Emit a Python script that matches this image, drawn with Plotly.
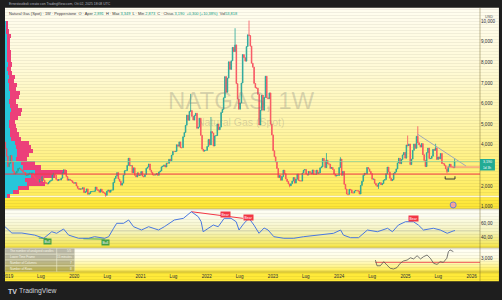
import pandas as pd
import plotly.graph_objects as go

# ---------------- data ----------------
last_week = "2025-09-29"
first_open = 4.13
closes_2018 = [3.82, 3.45, 2.94]
closes_2019 = [3.10, 3.48, 3.17, 2.71, 2.58, 2.63, 2.72, 2.85, 2.87, 2.80, 2.75, 2.66,
               2.65, 2.52, 2.53, 2.57, 2.62, 2.61, 2.63, 2.46, 2.40, 2.33, 2.27, 2.19, 2.31,
               2.26, 2.45, 2.28, 2.18, 2.12, 2.10, 2.18, 2.24, 2.28, 2.55, 2.62, 2.53, 2.32, 2.26,
               2.32, 2.29, 2.38, 2.64, 2.79, 2.63, 2.46, 2.28, 2.33, 2.28, 2.25, 2.17, 2.13]
closes_2020 = [2.16, 2.00, 1.89, 1.84, 1.86, 1.85, 1.92, 1.68, 1.72, 1.86, 1.60, 1.64, 1.73,
               1.73, 1.74, 1.75, 1.95, 1.83, 1.78, 1.70, 1.85, 1.73, 1.67, 1.65, 1.55, 1.75,
               1.80, 1.70, 1.80, 1.80, 2.17, 2.36, 2.48, 2.65, 2.34, 2.23, 2.04, 2.14, 2.53,
               2.74, 2.75, 3.00, 3.35, 2.98, 2.99, 2.64, 2.88, 2.52, 2.44, 2.64, 2.51, 2.54]
closes_2021 = [2.70, 2.48, 2.45, 2.56, 2.86, 2.92, 3.07, 2.77, 2.66, 2.54, 2.53, 2.55, 2.60,
               2.52, 2.68, 2.73, 2.93, 2.96, 3.02, 2.92, 3.11, 3.10, 3.30, 3.22, 3.50, 3.68,
               3.67, 3.68, 4.00, 3.93, 4.14, 3.86, 3.86, 4.39, 4.60, 4.95, 5.44, 5.19, 5.62,
               5.66, 5.38, 5.20, 5.42, 5.53, 4.80, 4.86, 5.29, 4.46, 3.79, 3.69, 3.73, 3.73]
closes_2022 = [3.92, 4.26, 3.99, 4.64, 4.57, 3.94, 4.43, 4.45, 5.01, 4.73, 4.86, 5.57, 5.72,
               6.28, 7.31, 6.55, 7.24, 8.03, 7.66, 8.08, 8.73, 8.52, 8.85, 6.97, 6.22, 5.73,
               6.03, 7.00, 8.38, 8.23, 8.06, 8.77, 9.34, 9.30, 8.79, 7.96, 7.77, 6.98, 6.77,
               6.75, 6.45, 4.96, 5.68, 6.40, 5.68, 6.30, 7.33, 6.28, 6.24, 6.52, 5.00, 4.48]
closes_2023 = [3.71, 3.42, 3.17, 2.85, 2.41, 2.51, 2.28, 2.46, 2.77, 2.60, 2.34, 2.22, 2.10,
               2.01, 2.11, 2.24, 2.41, 2.14, 2.33, 2.58, 2.27, 2.25, 2.24, 2.63, 2.77, 2.80,
               2.58, 2.53, 2.71, 2.64, 2.58, 2.78, 2.56, 2.56, 2.77, 2.61, 2.64, 2.88, 2.93,
               3.34, 3.22, 2.89, 3.25, 3.08, 3.06, 2.85, 2.90, 2.80, 2.58, 2.48, 2.51, 2.51]
closes_2024 = [2.90, 3.31, 2.52, 2.71, 2.08, 1.85, 1.61, 1.60, 1.84, 1.81, 1.66, 1.66, 1.76,
               1.78, 1.77, 1.75, 1.61, 2.03, 2.23, 2.52, 2.62, 2.59, 2.90, 2.83, 2.71, 2.60,
               2.33, 2.34, 2.13, 2.04, 1.98, 2.13, 2.16, 2.06, 2.12, 2.28, 2.31, 2.60, 2.92, 2.68,
               2.38, 2.26, 2.31, 2.61, 2.68, 2.83, 3.12, 3.35, 3.08, 3.29, 3.51, 3.63, 3.35]
closes_2025 = [3.99, 3.95, 4.04, 3.04, 3.31, 3.73, 4.04, 3.83, 4.41, 4.10, 3.99, 3.89, 4.06,
               3.52, 3.24, 2.94, 3.62, 3.84, 3.33, 3.34, 3.45, 3.78, 3.73, 3.85, 3.29, 3.41,
               3.32, 3.58, 3.09, 3.08, 2.99, 2.83, 2.70, 2.93, 3.06, 2.93, 2.92, 2.89, 3.19]
closes = closes_2018 + closes_2019 + closes_2020 + closes_2021 + closes_2022 + closes_2023 + closes_2024 + closes_2025

high_marks = {"2021-10-04": 6.47, "2022-01-24": 5.35, "2022-06-06": 9.66, "2022-08-22": 10.03,
              "2023-10-23": 3.60, "2024-01-08": 3.40, "2025-01-13": 4.45, "2025-03-10": 4.90,
              "2025-06-16": 4.05, "2025-09-29": 3.349}
low_marks = {"2020-06-22": 1.48, "2023-04-03": 1.94, "2024-02-19": 1.55, "2024-08-05": 1.86,
             "2025-08-18": 2.62, "2025-09-29": 2.873}

support_level = 2.58
short_level = 2.92
short_level_start = "2025-08-19"
trend_dates = ["2025-03-08", "2025-12-01"]
trend_prices = [4.52, 2.97]
bracket_dates = ["2025-08-08", "2025-08-08", "2025-10-01", "2025-10-01"]
bracket_prices = [2.47, 2.34, 2.34, 2.47]
event_date, event_price = "2025-09-21", 1.08

# volume profile (price bins, total and up-volume, arbitrary units)
vp_price = [1.5, 1.7, 1.9, 2.1, 2.3, 2.5, 2.7, 2.9, 3.1, 3.3, 3.5, 3.7, 3.9, 4.1, 4.3, 4.5, 4.7,
            4.9, 5.1, 5.3, 5.5, 5.7, 5.9, 6.1, 6.3, 6.5, 6.7, 6.9, 7.1, 7.3, 7.5, 7.7, 7.9, 8.1,
            8.3, 8.5, 8.7, 8.9, 9.1, 9.3, 9.5, 9.7, 9.9]
vp_total = [5, 14, 24, 40, 38, 50, 62, 36, 30, 22, 24, 28, 26, 24, 16, 14, 12, 11, 10, 13, 16, 17,
            13, 11, 14, 15, 11, 12, 9, 10, 7, 6, 7, 6, 6, 6, 5, 5, 5, 6, 4, 3, 3]
vp_up = [3, 8, 13, 22, 20, 26, 30, 18, 16, 11, 12, 12, 11, 10, 6, 5, 5, 4, 4, 5, 5, 6, 5, 4, 5, 5,
         4, 4, 3, 4, 3, 2, 3, 2, 2, 2, 2, 2, 2, 2, 1, 1, 1]

# RSI
rsi_dates = ["2018-12-15", "2019-01-22", "2019-03-18", "2019-05-28", "2019-07-17", "2019-08-30",
             "2019-09-26", "2019-11-03", "2019-12-01", "2020-01-25", "2020-03-20", "2020-04-22",
             "2020-06-17", "2020-07-09", "2020-08-05", "2020-08-22", "2020-09-29", "2020-10-27",
             "2020-11-23", "2021-01-06", "2021-02-14", "2021-04-10", "2021-05-12", "2021-07-06",
             "2021-08-25", "2021-10-08", "2021-11-15", "2021-12-01", "2021-12-12", "2022-01-09",
             "2022-02-06", "2022-03-05", "2022-04-07", "2022-05-15", "2022-06-12", "2022-06-28",
             "2022-07-25", "2022-08-22", "2022-09-18", "2022-10-16", "2022-11-13", "2022-12-05",
             "2023-01-06", "2023-03-02", "2023-04-26", "2023-06-19", "2023-09-04", "2023-10-29",
             "2023-12-01", "2024-01-09", "2024-01-25", "2024-03-04", "2024-04-17", "2024-06-05",
             "2024-07-30", "2024-09-24", "2024-10-21", "2024-11-23", "2025-01-01", "2025-02-14",
             "2025-03-13", "2025-04-10", "2025-06-04", "2025-07-12", "2025-08-19", "2025-09-21",
             "2025-10-01"]
rsi_vals = [55.3, 46.5, 46.5, 43.6, 39.2, 48.3, 46.1, 52.1, 43.6, 39.2, 39.2, 41.4, 39.2, 41.4,
            53.1, 60.0, 60.0, 64.6, 55.3, 50.7, 55.3, 50.7, 55.3, 64.6, 66.9, 76.1, 69.2, 62.2,
            48.3, 53.1, 57.6, 55.3, 66.9, 66.9, 62.2, 50.7, 60.0, 66.9, 57.6, 46.1, 53.5, 50.7,
            41.4, 39.2, 39.2, 41.4, 43.6, 46.1, 46.1, 50.7, 43.6, 40.0, 40.0, 50.7, 48.3, 53.1,
            48.3, 57.6, 62.2, 62.2, 57.6, 50.7, 53.1, 50.7, 46.1, 49.3, 50.0]
sig_dates = ["2019-08-08", "2020-06-22", "2022-04-12", "2022-08-20", "2025-02-14"]
sig_vals = [34.4, 33.6, 72.9, 68.3, 66.4]
sig_text = ["Bull", "Bull", "Bear", "Bear", "Bear"]
bear_line_dates = ["2021-10-08", "2022-07-19"]
bear_line_vals = [76.1, 66.9]
bull_lines = [(["2019-06-19", "2019-08-05"], [39.6, 38.6]),
              (["2020-02-20", "2020-06-17"], [38.5, 38.0])]

# lower-time-frame pane
ltf_dates = ["2024-07-19", "2024-07-28", "2024-08-15", "2024-09-03", "2024-09-21", "2024-10-09",
             "2024-10-27", "2024-11-15", "2024-12-03", "2024-12-21", "2025-01-10", "2025-01-28",
             "2025-02-15", "2025-03-06", "2025-03-25", "2025-04-11", "2025-04-30", "2025-05-18",
             "2025-06-05", "2025-06-24", "2025-07-11", "2025-07-29", "2025-08-17", "2025-08-26",
             "2025-09-04", "2025-09-13", "2025-09-22"]
ltf_vals = [2.91, 2.66, 2.66, 2.84, 2.69, 2.55, 2.52, 2.58, 2.77, 2.87, 2.91, 3.01, 2.96, 3.10,
            2.96, 3.06, 3.13, 2.99, 2.77, 2.72, 2.84, 2.81, 2.99, 3.28, 3.35, 3.31, 3.28]
ltf_level = 2.81

table_labels = ["The number of analyzed candles", "Lower Time Frame", "Number of Columns", "Number of Rows"]
table_values = ["5/5", "15 minutes", "7", "8"]

x_tick_vals = ["2019-01-01", "2019-07-01", "2020-01-01", "2020-07-01", "2021-01-01", "2021-07-01",
               "2022-01-01", "2022-07-01", "2023-01-01", "2023-07-01", "2024-01-01", "2024-07-01",
               "2025-01-01", "2025-07-01", "2026-01-01"]
x_tick_text = ["2019", "Lug", "2020", "Lug", "2021", "Lug", "2022", "Lug", "2023", "Lug", "2024",
               "Lug", "2025", "Lug", "2026"]
# the 3,000 tick sits under the last-price label in the reference
price_ticks = [1, 2, 4, 5, 6, 7, 8, 9, 10]
price_tick_text = ["1,000", "2,000", "4,000", "5,000", "6,000", "7,000", "8,000", "9,000", "10,000"]

# ---------------- geometry helpers (pixels -> paper) ----------------
TOP, BOT, LEFT, RIGHT = 8, 281, 3, 480
H, W = BOT - TOP, RIGHT - LEFT


def py(y):
    return (BOT - y) / H


def pxp(x):
    return (x - LEFT) / W


rng_start, rng_end = pd.Timestamp("2018-12-15"), pd.Timestamp("2026-02-16")
ms_per_px = (rng_end - rng_start).total_seconds() * 1000 / W

dates = pd.date_range(end=last_week, periods=len(closes), freq="W-MON")
keys = [d.strftime("%Y-%m-%d") for d in dates]
opens = [first_open] + closes[:-1]
highs = [max(o, c) for o, c in zip(opens, closes)]
lows = [min(o, c) for o, c in zip(opens, closes)]
for k, v in high_marks.items():
    if k in keys:
        i = keys.index(k)
        highs[i] = max(highs[i], v)
for k, v in low_marks.items():
    if k in keys:
        i = keys.index(k)
        lows[i] = min(lows[i], v)

fig = go.Figure()

# volume profile (drawn from the left edge)
up_len = [u * ms_per_px for u in vp_up]
dn_len = [(t - u) * ms_per_px for t, u in zip(vp_total, vp_up)]
dn_base = [rng_start + pd.Timedelta(milliseconds=u) for u in up_len]
fig.add_trace(go.Bar(y=vp_price, x=up_len, base=[rng_start] * len(vp_price), orientation="h",
                     width=0.2, marker=dict(color="#26c6da", line=dict(width=0)),
                     xaxis="x", yaxis="y", hoverinfo="skip"))
fig.add_trace(go.Bar(y=vp_price, x=dn_len, base=dn_base, orientation="h",
                     width=0.2, marker=dict(color="#ec407a", line=dict(width=0)),
                     xaxis="x", yaxis="y", hoverinfo="skip"))

fig.add_trace(go.Candlestick(
    x=dates, open=opens, high=highs, low=lows, close=closes,
    increasing=dict(line=dict(color="#26a69a", width=0.8), fillcolor="#26a69a"),
    decreasing=dict(line=dict(color="#f7525f", width=0.8), fillcolor="#f7525f"),
    whiskerwidth=0, xaxis="x", yaxis="y", hoverinfo="skip"))

fig.add_trace(go.Scatter(x=trend_dates, y=trend_prices, mode="lines",
                         line=dict(color="#9fa9b8", width=1), xaxis="x", yaxis="y", hoverinfo="skip"))
fig.add_trace(go.Scatter(x=bracket_dates, y=bracket_prices, mode="lines",
                         line=dict(color="#333333", width=1), xaxis="x", yaxis="y", hoverinfo="skip"))
fig.add_trace(go.Scatter(x=[event_date], y=[event_price], mode="markers",
                         marker=dict(size=6, color="#f6a39b", line=dict(color="#6b7fd6", width=1)),
                         xaxis="x", yaxis="y", hoverinfo="skip"))

# RSI pane
fig.add_trace(go.Scatter(x=bear_line_dates, y=bear_line_vals, mode="lines",
                         line=dict(color="#f23645", width=1), xaxis="x", yaxis="y2", hoverinfo="skip"))
for dl, vl in bull_lines:
    fig.add_trace(go.Scatter(x=dl, y=vl, mode="lines", line=dict(color="#4caf50", width=1),
                             xaxis="x", yaxis="y2", hoverinfo="skip"))
fig.add_trace(go.Scatter(x=rsi_dates, y=rsi_vals, mode="lines",
                         line=dict(color="#4a78e0", width=1), xaxis="x", yaxis="y2", hoverinfo="skip"))

# lower pane
fig.add_trace(go.Scatter(x=[ltf_dates[0], rng_end], y=[ltf_level, ltf_level], mode="lines",
                         line=dict(color="#f25a5a", width=1), xaxis="x", yaxis="y3", hoverinfo="skip"))
fig.add_trace(go.Scatter(x=ltf_dates, y=ltf_vals, mode="lines",
                         line=dict(color="#555555", width=0.8), xaxis="x", yaxis="y3", hoverinfo="skip"))

# ---------------- background gradients ----------------
shapes = []


def grad(y0, y1, stops, step=1.5):
    y = y0
    while y < y1 - 1e-6:
        yb = min(y + step, y1)
        ym = (y + yb) / 2
        for (a, ca), (b, cb) in zip(stops[:-1], stops[1:]):
            if a <= ym <= b:
                t = (ym - a) / (b - a) if b > a else 0
                c = tuple(int(round(ca[i] + (cb[i] - ca[i]) * t)) for i in range(3))
                break
        else:
            c = stops[-1][1]
        shapes.append(dict(type="rect", xref="paper", yref="paper", x0=pxp(LEFT), x1=pxp(499),
                           y0=py(yb) - 0.0005, y1=py(y) + 0.0005, layer="below",
                           fillcolor="rgb(%d,%d,%d)" % c, line=dict(width=0)))
        y = yb


grad(8, 196, [(8, (255, 253, 240)), (70, (255, 250, 214)), (130, (255, 245, 165)), (196, (255, 237, 92))])
grad(196, 197.5, [(196, (255, 250, 220)), (197.5, (255, 250, 220))])
grad(197.5, 209, [(197.5, (255, 234, 68)), (209, (253, 229, 52))])
grad(209, 248, [(209, (255, 255, 246)), (216, (252, 252, 236)), (232, (245, 243, 188)),
                (244, (244, 232, 100)), (248, (250, 229, 62))])
grad(248, 272, [(248, (255, 255, 250)), (258, (255, 253, 226)), (266, (255, 245, 150)), (272, (255, 236, 72))])
grad(272, 281, [(272, (255, 235, 59)), (281, (255, 233, 55))])

sep = "rgba(110,100,40,0.45)"
for yy in (209, 248, 272):
    shapes.append(dict(type="line", xref="paper", yref="paper", x0=0, x1=pxp(499), y0=py(yy), y1=py(yy),
                       line=dict(color=sep, width=1), layer="above"))
shapes.append(dict(type="line", xref="paper", yref="paper", x0=1, x1=1, y0=0, y1=1,
                   line=dict(color=sep, width=1), layer="above"))
shapes.append(dict(type="line", xref="paper", yref="y2", x0=0, x1=1, y0=70, y1=70,
                   line=dict(color="rgba(255,255,255,0.8)", width=1), layer="below"))
shapes.append(dict(type="line", xref="paper", yref="y2", x0=0, x1=1, y0=50, y1=50,
                   line=dict(color="rgba(140,140,120,0.25)", width=1), layer="below"))

# price level lines
shapes.append(dict(type="line", xref="paper", yref="y", x0=0, x1=1, y0=closes[-1], y1=closes[-1],
                   line=dict(color="rgba(140,205,150,0.75)", width=1), layer="above"))
shapes.append(dict(type="line", xref="paper", yref="y", x0=0, x1=1, y0=support_level, y1=support_level,
                   line=dict(color="#f23645", width=1), layer="above"))
shapes.append(dict(type="line", xref="x", yref="y", x0=short_level_start, x1=rng_end,
                   y0=short_level, y1=short_level, line=dict(color="#f77c80", width=1), layer="above"))

# current price label box on the axis
shapes.append(dict(type="rect", xref="paper", yref="paper", x0=1, x1=pxp(495),
                   y0=py(170.5), y1=py(159), fillcolor="#22ab94", line=dict(width=0), layer="above"))

# table in lower pane
row_edges = [248.3, 254.2, 260.0, 265.9, 271.7]
for r in range(4):
    for (xa, xb) in ((3, 55), (55, 73)):
        shapes.append(dict(type="rect", xref="paper", yref="paper", x0=pxp(xa), x1=pxp(xb),
                           y0=py(row_edges[r + 1]), y1=py(row_edges[r]),
                           fillcolor="rgba(95,92,70,0.42)", line=dict(color="rgba(255,255,230,0.6)", width=0.5),
                           layer="above"))

# ---------------- annotations ----------------
FONT = "Liberation Sans, Arial, sans-serif"
ann = []
green = "#089981"
hdr = ('Natural Gas (Spot) · 1W · Pepperstone &nbsp;O · Aper <span style="color:%s">2,891</span>'
       ' &nbsp;H · Max <span style="color:%s">3,349</span> &nbsp;L · Min <span style="color:%s">2,873</span>'
       ' &nbsp;C · Chius <span style="color:%s">3,190 &nbsp;+0,300 (+10,38%%)</span> &nbsp;Vol'
       '<span style="color:%s">53,818</span>') % (green, green, green, green, green)
ann.append(dict(text=hdr, x=pxp(5), y=py(13), xref="paper", yref="paper", xanchor="left",
                yanchor="middle", showarrow=False, font=dict(size=3.9, color="#333333", family=FONT)))
ann.append(dict(text="Ernestoutboli creato con TradingView.com, Ott 02, 2025 18:08 UTC", x=pxp(5), y=py(4),
                xref="paper", yref="paper", xanchor="left", yanchor="middle", showarrow=False,
                font=dict(size=3.4, color="#b2b5be", family=FONT)))
ann.append(dict(text="<b>TV</b>", x=pxp(4), y=py(291), xref="paper", yref="paper", xanchor="left",
                yanchor="middle", showarrow=False, font=dict(size=7, color="#d1d4dc", family=FONT)))
ann.append(dict(text="TradingView", x=pxp(15), y=py(291), xref="paper", yref="paper", xanchor="left",
                yanchor="middle", showarrow=False, font=dict(size=6.8, color="#d1d4dc", family=FONT)))
ann.append(dict(text="NATGAS, 1W", x=pxp(240), y=py(100.5), xref="paper", yref="paper", showarrow=False,
                font=dict(size=24, color="rgba(120,120,120,0.28)", family=FONT)))
ann.append(dict(text="Natural Gas (Spot)", x=pxp(240), y=py(122), xref="paper", yref="paper", showarrow=False,
                font=dict(size=10.5, color="rgba(120,120,120,0.28)", family=FONT)))
ann.append(dict(text="USD", x=pxp(483), y=py(13), xref="paper", yref="paper", xanchor="left", showarrow=False,
                font=dict(size=3.8, color="#555555", family=FONT)))
ann.append(dict(text="3,190", x=pxp(487.5), y=py(161.6), xref="paper", yref="paper", xanchor="center",
                yanchor="middle", showarrow=False, font=dict(size=3.6, color="white", family=FONT)))
ann.append(dict(text="1d 3h", x=pxp(487.5), y=py(168), xref="paper", yref="paper", xanchor="center",
                yanchor="middle", showarrow=False, font=dict(size=3.2, color="white", family=FONT)))
for d, v, t in zip(sig_dates, sig_vals, sig_text):
    ann.append(dict(text=t, x=d, y=v, xref="x", yref="y2", showarrow=False,
                    bgcolor="#43a047" if t == "Bull" else "#f23645", borderpad=0.6,
                    font=dict(size=3.4, color="white", family=FONT)))
for r in range(4):
    ym = (row_edges[r] + row_edges[r + 1]) / 2
    ann.append(dict(text=table_labels[r], x=pxp(6), y=py(ym), xref="paper", yref="paper", xanchor="left",
                    yanchor="middle", showarrow=False, font=dict(size=3.0, color="#f5f3e0", family=FONT)))
    ann.append(dict(text=table_values[r], x=pxp(72), y=py(ym), xref="paper", yref="paper", xanchor="right",
                    yanchor="middle", showarrow=False, font=dict(size=3.0, color="#f5f3e0", family=FONT)))

axfont = dict(size=4.6, color="#2a2e39", family=FONT)
fig.update_layout(
    width=502, height=300, margin=dict(l=LEFT, r=502 - RIGHT, t=TOP, b=300 - BOT),
    paper_bgcolor="#1e1e1e", plot_bgcolor="rgba(0,0,0,0)", showlegend=False,
    barmode="overlay", bargap=0, hovermode=False,
    shapes=shapes, annotations=ann,
    xaxis=dict(type="date", range=[rng_start, rng_end], domain=[0, 1], anchor="y3",
               tickvals=x_tick_vals, ticktext=x_tick_text, tickfont=axfont, ticks="",
               showgrid=False, zeroline=False, showline=False, rangeslider=dict(visible=False)),
    yaxis=dict(domain=[py(209), 1], range=[0.8835, 10.641], side="right", anchor="x",
               tickvals=price_ticks, ticktext=price_tick_text, tickfont=axfont, ticks="",
               showgrid=False, zeroline=False),
    yaxis2=dict(domain=[py(248), py(209)], range=[25.7, 79.86], side="right", anchor="x",
                tickvals=[40, 60], ticktext=["40,00", "60,00"], tickfont=axfont, ticks="",
                showgrid=False, zeroline=False),
    yaxis3=dict(domain=[py(272), py(248)], range=[2.3886, 3.4367], side="right", anchor="x",
                tickvals=[3.0], ticktext=["3,000"], tickfont=axfont, ticks="",
                showgrid=False, zeroline=False),
)

fig.write_html("out.html")
